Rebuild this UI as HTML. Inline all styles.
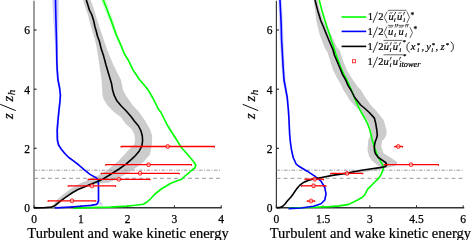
<!DOCTYPE html>
<html><head><meta charset="utf-8"><style>
html,body{margin:0;padding:0;background:#fff;}
svg{display:block;}
.tk{font-family:"Liberation Serif",serif;font-size:11.5px;fill:#000;stroke:#000;stroke-width:0.25px;}
.xl{font-family:"Liberation Serif",serif;font-size:14.5px;fill:#000;stroke:#000;stroke-width:0.2px;}
.yl{font-family:"Liberation Serif",serif;font-size:14.6px;fill:#000;stroke:#000;stroke-width:0.2px;}
.lg{font-family:"Liberation Serif",serif;font-size:10.8px;fill:#000;stroke:#000;stroke-width:0.2px;}
</style></head><body>
<svg width="473" height="240" viewBox="0 0 473 240" style="will-change:transform">
<rect width="473" height="240" fill="#fff"/>
<line x1="34" y1="0.8" x2="34" y2="208.1" stroke="#9e9e9e" stroke-width="2"/><line x1="33.4" y1="207.8" x2="221.79999999999998" y2="207.8" stroke="#333" stroke-width="1.5"/><line x1="34" y1="30" x2="36.6" y2="30" stroke="#222" stroke-width="1.1"/><text x="30.1" y="34.3" text-anchor="end" class="tk">6</text><line x1="34" y1="89.2" x2="36.6" y2="89.2" stroke="#222" stroke-width="1.1"/><text x="30.1" y="93.5" text-anchor="end" class="tk">4</text><line x1="34" y1="148.3" x2="36.6" y2="148.3" stroke="#222" stroke-width="1.1"/><text x="30.1" y="152.60000000000002" text-anchor="end" class="tk">2</text><line x1="34" y1="207.4" x2="36.6" y2="207.4" stroke="#222" stroke-width="1.1"/><text x="30.1" y="211.70000000000002" text-anchor="end" class="tk">0</text><line x1="34" y1="207.5" x2="34" y2="205.3" stroke="#262626" stroke-width="1"/><text x="34" y="222.6" text-anchor="middle" class="tk">0</text><line x1="80.8" y1="207.5" x2="80.8" y2="205.3" stroke="#262626" stroke-width="1"/><text x="80.8" y="222.6" text-anchor="middle" class="tk">1</text><line x1="127.6" y1="207.5" x2="127.6" y2="205.3" stroke="#262626" stroke-width="1"/><text x="127.6" y="222.6" text-anchor="middle" class="tk">2</text><line x1="174.4" y1="207.5" x2="174.4" y2="205.3" stroke="#262626" stroke-width="1"/><text x="174.4" y="222.6" text-anchor="middle" class="tk">3</text><line x1="221.2" y1="207.5" x2="221.2" y2="205.3" stroke="#262626" stroke-width="1"/><text x="221.2" y="222.6" text-anchor="middle" class="tk">4</text><text x="128" y="237.6" text-anchor="middle" class="xl">Turbulent and wake kinetic energy</text>
<line x1="276.4" y1="0.8" x2="276.4" y2="208.1" stroke="#3a3a3a" stroke-width="1.2"/><line x1="275.79999999999995" y1="207.8" x2="464.2" y2="207.8" stroke="#333" stroke-width="1.5"/><line x1="276.4" y1="30" x2="279.0" y2="30" stroke="#222" stroke-width="1.1"/><text x="272.5" y="34.3" text-anchor="end" class="tk">6</text><line x1="276.4" y1="89.2" x2="279.0" y2="89.2" stroke="#222" stroke-width="1.1"/><text x="272.5" y="93.5" text-anchor="end" class="tk">4</text><line x1="276.4" y1="148.3" x2="279.0" y2="148.3" stroke="#222" stroke-width="1.1"/><text x="272.5" y="152.60000000000002" text-anchor="end" class="tk">2</text><line x1="276.4" y1="207.4" x2="279.0" y2="207.4" stroke="#222" stroke-width="1.1"/><text x="272.5" y="211.70000000000002" text-anchor="end" class="tk">0</text><line x1="276.4" y1="207.5" x2="276.4" y2="205.3" stroke="#262626" stroke-width="1"/><text x="276.4" y="222.6" text-anchor="middle" class="tk">0</text><line x1="323.1" y1="207.5" x2="323.1" y2="205.3" stroke="#262626" stroke-width="1"/><text x="323.1" y="222.6" text-anchor="middle" class="tk">1.5</text><line x1="369.8" y1="207.5" x2="369.8" y2="205.3" stroke="#262626" stroke-width="1"/><text x="369.8" y="222.6" text-anchor="middle" class="tk">3</text><line x1="416.5" y1="207.5" x2="416.5" y2="205.3" stroke="#262626" stroke-width="1"/><text x="416.5" y="222.6" text-anchor="middle" class="tk">4.5</text><line x1="463.2" y1="207.5" x2="463.2" y2="205.3" stroke="#262626" stroke-width="1"/><text x="463.2" y="222.6" text-anchor="middle" class="tk">6</text><text x="370.4" y="237.6" text-anchor="middle" class="xl">Turbulent and wake kinetic energy</text>
<polygon points="83.10,0.00 85.50,8.00 88.00,15.00 90.50,25.00 93.50,35.00 95.50,42.00 97.10,50.00 99.40,65.00 101.60,80.00 102.20,90.00 102.30,94.00 103.50,99.00 107.70,105.70 114.30,112.30 121.00,117.30 126.00,124.30 131.80,129.30 134.30,134.30 135.20,139.30 134.30,144.30 129.30,149.30 123.30,155.80 117.50,161.70 108.80,169.00 101.50,174.00 97.90,175.60 89.00,179.50 81.30,182.90 74.00,186.50 68.80,190.20 63.00,194.50 58.30,198.50 54.50,203.00 52.00,206.90 50.00,207.60 54.00,207.60 56.30,206.90 58.50,204.00 62.50,200.60 68.00,196.00 75.00,191.30 83.00,188.00 91.70,185.00 100.00,183.60 108.80,182.80 117.50,178.40 129.00,172.60 136.40,167.50 143.70,161.70 150.00,154.40 151.80,145.00 152.20,136.00 150.30,130.00 144.70,120.00 139.00,112.00 132.50,105.00 125.60,95.00 123.10,90.00 121.00,80.00 113.40,65.00 107.30,50.00 103.80,40.00 101.50,33.00 98.80,25.00 95.60,15.00 93.50,8.00 90.60,0.00" fill="#cccccc" stroke="none"/><polygon points="52.30,0.00 53.05,15.00 54.10,30.00 55.10,45.00 55.60,60.00 56.05,70.00 56.90,80.00 58.54,88.00 59.38,95.00 58.99,101.00 57.95,110.00 56.90,120.00 56.05,130.00 56.20,140.00 57.47,145.00 59.92,148.70 63.98,153.70 67.83,157.50 72.88,161.20 77.93,165.00 82.99,169.40 89.22,174.40 95.24,177.70 97.45,180.00 97.78,186.00 97.86,200.60 97.17,202.80 95.88,204.40 90.39,205.40 79.39,206.20 69.39,207.00 59.40,207.60 54.40,208.00 55.60,208.00 60.60,207.60 70.61,207.00 80.61,206.20 91.61,205.40 97.12,204.40 98.43,202.80 99.14,200.60 99.22,186.00 98.95,180.00 96.76,177.70 90.78,174.40 84.61,169.40 79.67,165.00 74.72,161.20 69.77,157.50 66.02,153.70 62.08,148.70 59.73,145.00 58.60,140.00 58.35,130.00 59.10,120.00 60.05,110.00 61.01,101.00 61.42,95.00 60.66,88.00 59.10,80.00 58.35,70.00 58.00,60.00 58.10,45.00 58.30,30.00 58.55,15.00 58.70,0.00" fill="#ccccff" stroke="none"/><polygon points="100.70,0.00 103.28,6.00 105.88,12.50 109.00,20.00 112.04,28.00 114.75,35.00 117.62,41.00 120.03,46.30 123.28,53.80 127.20,60.00 132.33,70.40 138.65,79.80 144.87,87.10 148.08,91.30 152.20,98.50 157.43,109.00 160.14,112.50 163.16,118.50 166.38,125.00 170.19,131.00 175.92,140.00 180.03,146.70 185.05,152.50 190.07,158.30 193.48,162.50 195.08,165.00 194.09,168.00 190.80,170.50 187.61,173.30 184.31,176.00 181.02,179.20 175.33,181.20 170.13,183.30 160.65,189.00 154.36,194.00 150.27,198.50 146.38,202.00 142.69,204.20 134.39,205.30 126.49,206.10 109.40,207.10 89.40,207.60 72.80,208.20 74.00,208.20 90.60,207.60 110.60,207.10 127.71,206.10 135.61,205.30 143.91,204.20 147.62,202.00 151.53,198.50 155.64,194.00 161.95,189.00 171.47,183.30 176.67,181.20 182.38,179.20 185.69,176.00 188.99,173.30 192.20,170.50 195.51,168.00 196.52,165.00 194.92,162.50 191.53,158.30 186.55,152.50 181.57,146.70 177.48,140.00 171.81,131.00 168.02,125.00 164.84,118.50 161.86,112.50 159.17,109.00 154.00,98.50 149.92,91.30 146.73,87.10 140.55,79.80 134.27,70.40 129.20,60.00 125.52,53.80 122.57,46.30 120.38,41.00 117.85,35.00 115.56,28.00 113.00,20.00 110.32,12.50 108.12,6.00 105.90,0.00" fill="#ccffcc" stroke="none"/><polygon points="98.6,198.5 103.2,205.3 96.5,205.3" fill="#d4d4ff" stroke="none"/><line x1="34" y1="170.2" x2="221.2" y2="170.2" stroke="#999" stroke-width="1" stroke-dasharray="3.5,1.5,1,1.5"/><line x1="34" y1="178.3" x2="221.2" y2="178.3" stroke="#999" stroke-width="1" stroke-dasharray="4,3"/><polyline points="103.30,0.00 105.70,6.00 108.10,12.50 111.00,20.00 113.80,28.00 116.30,35.00 119.00,41.00 121.30,46.30 124.40,53.80 128.20,60.00 133.30,70.40 139.60,79.80 145.80,87.10 149.00,91.30 153.10,98.50 158.30,109.00 161.00,112.50 164.00,118.50 167.20,125.00 171.00,131.00 176.70,140.00 180.80,146.70 185.80,152.50 190.80,158.30 194.20,162.50 195.80,165.00 194.80,168.00 191.50,170.50 188.30,173.30 185.00,176.00 181.70,179.20 176.00,181.20 170.80,183.30 161.30,189.00 155.00,194.00 150.90,198.50 147.00,202.00 143.30,204.20 135.00,205.30 127.10,206.10 110.00,207.10 90.00,207.60 73.40,208.20" fill="none" stroke="#00ff00" stroke-width="1.6" stroke-linejoin="round"/><polyline points="55.50,0.00 55.80,15.00 56.20,30.00 56.60,45.00 56.80,60.00 57.20,70.00 58.00,80.00 59.60,88.00 60.40,95.00 60.00,101.00 59.00,110.00 58.00,120.00 57.20,130.00 57.40,140.00 58.60,145.00 61.00,148.70 65.00,153.70 68.80,157.50 73.80,161.20 78.80,165.00 83.80,169.40 90.00,174.40 96.00,177.70 98.20,180.00 98.50,186.00 98.50,200.60 97.80,202.80 96.50,204.40 91.00,205.40 80.00,206.20 70.00,207.00 60.00,207.60 55.00,208.00" fill="none" stroke="#0000ff" stroke-width="1.6" stroke-linejoin="round"/><polyline points="86.30,0.00 87.50,3.80 89.40,10.00 91.90,15.00 93.80,21.30 95.00,27.00 96.30,31.30 97.50,36.30 99.40,41.30 100.60,46.30 101.60,50.00 103.50,55.60 106.00,65.00 108.80,74.40 111.60,83.80 112.60,90.00 114.30,95.70 116.80,100.70 119.00,103.30 121.00,105.70 126.00,110.70 131.00,116.50 134.30,121.00 138.50,126.00 141.00,131.00 142.30,136.00 142.60,141.00 141.80,146.00 139.30,151.00 135.50,155.50 132.00,158.80 126.30,163.80 119.00,169.00 108.80,175.50 100.00,180.60 91.30,184.00 85.40,186.50 78.00,189.50 72.70,192.50 66.20,196.80 59.40,201.90 54.30,206.10 51.00,207.10 43.30,207.80 34.00,207.90" fill="none" stroke="#000" stroke-width="1.6" stroke-linejoin="round"/><line x1="121" y1="146.5" x2="214.5" y2="146.5" stroke="#ff0000" stroke-width="1.3"/><line x1="121" y1="146.1" x2="121" y2="147.6" stroke="#ff0000" stroke-width="1"/><line x1="214.5" y1="146.1" x2="214.5" y2="147.6" stroke="#ff0000" stroke-width="1"/><rect x="166.0" y="144.7" width="3.4" height="3.6" rx="1.3" fill="#ffd0d0" fill-opacity="0.6" stroke="#ff0000" stroke-width="0.9"/><line x1="105.7" y1="164.7" x2="191.5" y2="164.7" stroke="#ff0000" stroke-width="1.3"/><line x1="105.7" y1="164.29999999999998" x2="105.7" y2="165.79999999999998" stroke="#ff0000" stroke-width="1"/><line x1="191.5" y1="164.29999999999998" x2="191.5" y2="165.79999999999998" stroke="#ff0000" stroke-width="1"/><rect x="146.9" y="162.89999999999998" width="3.4" height="3.6" rx="1.3" fill="#ffd0d0" fill-opacity="0.6" stroke="#ff0000" stroke-width="0.9"/><line x1="101.1" y1="173.3" x2="179.2" y2="173.3" stroke="#ff0000" stroke-width="1.3"/><line x1="101.1" y1="172.9" x2="101.1" y2="174.4" stroke="#ff0000" stroke-width="1"/><line x1="179.2" y1="172.9" x2="179.2" y2="174.4" stroke="#ff0000" stroke-width="1"/><rect x="138.4" y="171.5" width="3.4" height="3.6" rx="1.3" fill="#ffd0d0" fill-opacity="0.6" stroke="#ff0000" stroke-width="0.9"/><line x1="88.1" y1="179.3" x2="150" y2="179.3" stroke="#ff0000" stroke-width="1.3"/><line x1="88.1" y1="178.9" x2="88.1" y2="180.4" stroke="#ff0000" stroke-width="1"/><line x1="150" y1="178.9" x2="150" y2="180.4" stroke="#ff0000" stroke-width="1"/><rect x="117.1" y="177.5" width="3.4" height="3.6" rx="1.3" fill="#ffd0d0" fill-opacity="0.6" stroke="#ff0000" stroke-width="0.9"/><line x1="68.2" y1="185.9" x2="115.6" y2="185.9" stroke="#ff0000" stroke-width="1.3"/><line x1="68.2" y1="185.5" x2="68.2" y2="187.0" stroke="#ff0000" stroke-width="1"/><line x1="115.6" y1="185.5" x2="115.6" y2="187.0" stroke="#ff0000" stroke-width="1"/><rect x="90.3" y="184.1" width="3.4" height="3.6" rx="1.3" fill="#ffd0d0" fill-opacity="0.6" stroke="#ff0000" stroke-width="0.9"/><line x1="48" y1="200.8" x2="95.8" y2="200.8" stroke="#ff0000" stroke-width="1.3"/><line x1="48" y1="200.4" x2="48" y2="201.9" stroke="#ff0000" stroke-width="1"/><line x1="95.8" y1="200.4" x2="95.8" y2="201.9" stroke="#ff0000" stroke-width="1"/><rect x="70.3" y="199.0" width="3.4" height="3.6" rx="1.3" fill="#ffd0d0" fill-opacity="0.6" stroke="#ff0000" stroke-width="0.9"/>
<polygon points="313.60,0.00 315.00,10.00 316.20,20.00 318.00,28.00 319.80,35.00 322.50,42.00 324.79,48.00 327.31,52.00 329.95,60.00 333.00,70.00 337.10,78.00 340.60,84.00 343.30,90.00 346.60,95.00 349.60,100.00 353.99,105.00 360.53,112.00 367.20,120.00 369.50,125.00 371.00,130.00 370.50,135.00 368.30,140.00 367.50,150.00 369.20,156.70 372.00,160.50 375.00,163.30 379.00,166.60 374.00,168.60 362.00,170.40 350.00,172.60 344.00,173.80 345.00,175.00 355.00,173.60 368.00,171.40 381.00,169.20 388.30,167.50 395.80,165.80 397.50,162.50 391.70,158.30 383.56,153.30 381.25,146.70 382.30,140.00 383.50,140.00 386.50,135.00 386.50,130.00 383.68,120.00 376.38,111.00 370.74,105.00 364.40,96.00 360.90,90.00 357.90,87.00 354.40,82.00 350.40,76.00 346.80,70.00 342.80,60.00 339.60,50.00 337.26,48.00 334.50,42.00 331.30,35.00 327.00,28.00 323.00,20.00 319.80,10.00 317.50,0.00" fill="#cccccc" stroke="none"/><polygon points="278.40,0.00 278.94,12.00 279.47,25.00 279.80,40.00 280.50,50.00 281.45,65.00 282.60,80.00 284.11,87.50 286.06,97.50 287.45,110.00 288.20,120.00 288.93,135.00 289.75,143.00 290.77,150.00 292.49,157.50 295.30,163.80 297.80,166.00 300.31,167.50 306.52,171.20 314.13,176.20 320.34,181.20 324.15,187.50 325.37,193.80 324.18,200.00 320.39,203.80 312.90,206.20 300.40,208.00 287.90,208.60 289.10,208.60 301.60,208.00 314.10,206.20 321.61,203.80 325.42,200.00 326.63,193.80 325.45,187.50 321.66,181.20 315.47,176.20 307.88,171.20 301.69,167.50 299.20,166.00 296.70,163.80 293.91,157.50 292.23,150.00 291.25,143.00 290.47,135.00 289.80,120.00 289.35,110.00 288.34,97.50 286.69,87.50 285.40,80.00 284.55,65.00 283.90,50.00 283.40,40.00 282.93,25.00 282.26,12.00 281.60,0.00" fill="#ccccff" stroke="none"/><polygon points="318.40,0.00 321.11,10.40 324.22,20.80 326.23,27.00 328.43,33.30 330.44,40.00 332.50,45.80 334.48,52.50 337.31,60.00 340.06,67.50 343.07,74.40 346.08,80.00 348.68,85.60 350.79,90.00 353.09,96.00 355.27,101.30 357.89,107.00 360.66,112.50 364.03,118.20 366.98,123.80 369.22,130.00 371.63,140.00 374.14,148.30 377.35,156.70 381.06,163.30 382.86,166.70 382.36,170.00 381.07,173.30 378.17,178.10 372.48,183.80 366.88,189.40 364.09,195.00 361.39,197.50 357.49,199.70 348.20,204.40 338.80,205.90 329.40,206.60 314.40,207.20 299.40,207.70 287.90,208.30 289.10,208.30 300.60,207.70 315.60,207.20 330.60,206.60 340.00,205.90 349.40,204.40 358.71,199.70 362.61,197.50 365.31,195.00 368.12,189.40 373.72,183.80 379.43,178.10 382.33,173.30 383.64,170.00 384.14,166.70 382.34,163.30 378.64,156.70 375.46,148.30 372.97,140.00 370.57,130.00 368.34,123.80 365.40,118.20 362.04,112.50 359.29,107.00 356.67,101.30 354.51,96.00 352.21,90.00 350.12,85.60 347.52,80.00 344.53,74.40 341.54,67.50 338.79,60.00 335.97,52.50 334.02,45.80 331.96,40.00 329.97,33.30 327.77,27.00 325.78,20.80 322.69,10.40 320.00,0.00" fill="#ccffcc" stroke="none"/><line x1="276.5" y1="170.2" x2="463.7" y2="170.2" stroke="#999" stroke-width="1" stroke-dasharray="3.5,1.5,1,1.5"/><line x1="276.5" y1="178.3" x2="463.7" y2="178.3" stroke="#999" stroke-width="1" stroke-dasharray="4,3"/><polyline points="319.20,0.00 321.90,10.40 325.00,20.80 327.00,27.00 329.20,33.30 331.20,40.00 333.26,45.80 335.23,52.50 338.05,60.00 340.80,67.50 343.80,74.40 346.80,80.00 349.40,85.60 351.50,90.00 353.80,96.00 355.97,101.30 358.59,107.00 361.35,112.50 364.72,118.20 367.66,123.80 369.90,130.00 372.30,140.00 374.80,148.30 378.00,156.70 381.70,163.30 383.50,166.70 383.00,170.00 381.70,173.30 378.80,178.10 373.10,183.80 367.50,189.40 364.70,195.00 362.00,197.50 358.10,199.70 348.80,204.40 339.40,205.90 330.00,206.60 315.00,207.20 300.00,207.70 288.50,208.30" fill="none" stroke="#00ff00" stroke-width="1.6" stroke-linejoin="round"/><polyline points="280.00,0.00 280.60,12.00 281.20,25.00 281.60,40.00 282.20,50.00 283.00,65.00 284.00,80.00 285.40,87.50 287.20,97.50 288.40,110.00 289.00,120.00 289.70,135.00 290.50,143.00 291.50,150.00 293.20,157.50 296.00,163.80 298.50,166.00 301.00,167.50 307.20,171.20 314.80,176.20 321.00,181.20 324.80,187.50 326.00,193.80 324.80,200.00 321.00,203.80 313.50,206.20 301.00,208.00 288.50,208.60" fill="none" stroke="#0000ff" stroke-width="1.6" stroke-linejoin="round"/><polyline points="315.00,0.00 317.70,10.40 320.80,20.80 323.50,27.00 326.00,33.30 328.80,40.00 331.25,45.80 333.07,50.00 334.35,55.00 337.04,61.30 339.70,67.50 342.50,74.40 345.70,80.00 348.10,85.60 350.90,90.00 354.70,97.50 360.66,105.00 365.45,109.00 369.30,112.50 374.40,118.10 375.80,123.80 376.80,130.00 377.30,135.40 376.50,138.50 375.20,141.70 374.30,146.70 374.60,151.00 375.50,153.80 378.30,157.50 383.30,160.80 385.60,162.50 386.60,164.20 386.40,165.60 385.00,166.70 380.00,167.60 371.70,168.70 363.30,170.00 355.00,171.50 346.00,173.40 339.00,174.40 332.30,175.40 322.90,177.20 313.50,179.00 308.00,180.40 304.00,182.20 300.50,184.60 298.00,187.20 295.50,190.50 293.00,194.20 291.00,197.00 287.50,200.80 285.00,204.00 283.00,206.00 280.50,207.40 277.00,208.00" fill="none" stroke="#000" stroke-width="1.6" stroke-linejoin="round"/><line x1="394.8" y1="146.5" x2="402.7" y2="146.5" stroke="#ff0000" stroke-width="1.3"/><line x1="394.8" y1="146.1" x2="394.8" y2="147.6" stroke="#ff0000" stroke-width="1"/><line x1="402.7" y1="146.1" x2="402.7" y2="147.6" stroke="#ff0000" stroke-width="1"/><rect x="396.6" y="144.7" width="3.4" height="3.6" rx="1.3" fill="#ffd0d0" fill-opacity="0.6" stroke="#ff0000" stroke-width="0.9"/><line x1="384.2" y1="164.7" x2="438.5" y2="164.7" stroke="#ff0000" stroke-width="1.3"/><line x1="384.2" y1="164.29999999999998" x2="384.2" y2="165.79999999999998" stroke="#ff0000" stroke-width="1"/><line x1="438.5" y1="164.29999999999998" x2="438.5" y2="165.79999999999998" stroke="#ff0000" stroke-width="1"/><rect x="409.3" y="162.89999999999998" width="3.4" height="3.6" rx="1.3" fill="#ffd0d0" fill-opacity="0.6" stroke="#ff0000" stroke-width="0.9"/><line x1="330.6" y1="173.4" x2="362.8" y2="173.4" stroke="#ff0000" stroke-width="1.3"/><line x1="330.6" y1="173.0" x2="330.6" y2="174.5" stroke="#ff0000" stroke-width="1"/><line x1="362.8" y1="173.0" x2="362.8" y2="174.5" stroke="#ff0000" stroke-width="1"/><rect x="345.3" y="171.6" width="3.4" height="3.6" rx="1.3" fill="#ffd0d0" fill-opacity="0.6" stroke="#ff0000" stroke-width="0.9"/><line x1="305" y1="179.2" x2="323.5" y2="179.2" stroke="#ff0000" stroke-width="1.3"/><line x1="305" y1="178.79999999999998" x2="305" y2="180.29999999999998" stroke="#ff0000" stroke-width="1"/><line x1="323.5" y1="178.79999999999998" x2="323.5" y2="180.29999999999998" stroke="#ff0000" stroke-width="1"/><rect x="313.0" y="177.39999999999998" width="3.4" height="3.6" rx="1.3" fill="#ffd0d0" fill-opacity="0.6" stroke="#ff0000" stroke-width="0.9"/><line x1="301.5" y1="185.8" x2="326" y2="185.8" stroke="#ff0000" stroke-width="1.3"/><line x1="301.5" y1="185.4" x2="301.5" y2="186.9" stroke="#ff0000" stroke-width="1"/><line x1="326" y1="185.4" x2="326" y2="186.9" stroke="#ff0000" stroke-width="1"/><rect x="311.8" y="184.0" width="3.4" height="3.6" rx="1.3" fill="#ffd0d0" fill-opacity="0.6" stroke="#ff0000" stroke-width="0.9"/><line x1="307.2" y1="201" x2="314.8" y2="201" stroke="#ff0000" stroke-width="1.3"/><line x1="307.2" y1="200.6" x2="307.2" y2="202.1" stroke="#ff0000" stroke-width="1"/><line x1="314.8" y1="200.6" x2="314.8" y2="202.1" stroke="#ff0000" stroke-width="1"/><rect x="309.3" y="199.2" width="3.4" height="3.6" rx="1.3" fill="#ffd0d0" fill-opacity="0.6" stroke="#ff0000" stroke-width="0.9"/>
<g transform="translate(12.5,119.2) rotate(-90)"><text x="0.10" y="0" class="yl" font-style="italic">z</text><line x1="8.6" y1="3.2" x2="14.9" y2="-12.3" stroke="#000" stroke-width="0.95"/><text x="17.70" y="0" class="yl" font-style="italic">z</text><text x="24.02" y="2.6" class="yl" style="font-size:11px" font-style="italic">h</text></g>
<g transform="translate(255.0,119.2) rotate(-90)"><text x="0.10" y="0" class="yl" font-style="italic">z</text><line x1="8.6" y1="3.2" x2="14.9" y2="-12.3" stroke="#000" stroke-width="0.95"/><text x="17.70" y="0" class="yl" font-style="italic">z</text><text x="24.02" y="2.6" class="yl" style="font-size:11px" font-style="italic">h</text></g>
<line x1="341.6" y1="17" x2="366.2" y2="17" stroke="#00ff00" stroke-width="1.6"/><line x1="341.6" y1="31.4" x2="366.2" y2="31.4" stroke="#0000ff" stroke-width="1.6"/><line x1="341.6" y1="46.4" x2="366.2" y2="46.4" stroke="#000" stroke-width="1.6"/><rect x="352.5" y="59.7" width="3.1" height="3.1" fill="#fff" stroke="#ff2020" stroke-width="0.85"/>
<text x="367.70" y="19.90" class="lg" style="font-size:10.6px">1</text><line x1="373.0" y1="22.7" x2="377.6" y2="11.7" stroke="#000" stroke-width="0.75"/><text x="378.18" y="19.90" class="lg" style="font-size:10.6px">2</text><polyline points="387.2,11.6 384.2,17.35 387.2,23.1" fill="none" stroke="#000" stroke-width="0.6" stroke-linejoin="miter"/><line x1="387.9" y1="10.3" x2="406.4" y2="10.3" stroke="#000" stroke-width="0.6"/><text x="388.48" y="19.90" class="lg" style="font-size:10.6px" font-style="italic">u</text><path d="M389.4,13.4 C390.36,12.0 391.16,13.8 392.6,12.4" fill="none" stroke="#000" stroke-width="0.65"/><path d="M395.20000000000005,12.1 L396.05,12.1 L394.3,15.4 L394.09999999999997,15.4 Z" fill="#000" stroke="#000" stroke-width="0.15"/><text x="393.82" y="22.30" class="lg" style="font-size:7.0px" font-style="italic">i</text><text x="397.08" y="19.90" class="lg" style="font-size:10.6px" font-style="italic">u</text><path d="M398.3,13.4 C399.26,12.0 400.06,13.8 401.5,12.4" fill="none" stroke="#000" stroke-width="0.65"/><path d="M404.1,12.1 L404.95,12.1 L403.20000000000005,15.4 L403.0,15.4 Z" fill="#000" stroke="#000" stroke-width="0.15"/><text x="403.23" y="22.30" class="lg" style="font-size:7.0px" font-style="italic">i</text><polyline points="406.9,11.6 409.5,17.35 406.9,23.1" fill="none" stroke="#000" stroke-width="0.6" stroke-linejoin="miter"/><text x="410.52" y="17.98" class="lg" style="font-size:7.5px">*</text><text x="367.50" y="34.90" class="lg" style="font-size:10.6px">1</text><line x1="373.0" y1="37.699999999999996" x2="377.6" y2="26.7" stroke="#000" stroke-width="0.75"/><text x="378.18" y="34.90" class="lg" style="font-size:10.6px">2</text><polyline points="387.0,26.6 384.2,32.5 387.0,38.4" fill="none" stroke="#000" stroke-width="0.6" stroke-linejoin="miter"/><line x1="388.0" y1="25.4" x2="393.4" y2="25.4" stroke="#000" stroke-width="0.6"/><path d="M388.6,27.5 C389.86,26.1 390.91,27.9 392.8,26.5" fill="none" stroke="#000" stroke-width="0.65"/><text x="387.98" y="34.90" class="lg" style="font-size:10.6px" font-style="italic">u</text><path d="M395.5,24.1 L396.34999999999997,24.1 L395.0,27.4 L394.79999999999995,27.4 Z" fill="#000" stroke="#000" stroke-width="0.15"/><path d="M397.3,24.1 L398.15,24.1 L396.8,27.4 L396.59999999999997,27.4 Z" fill="#000" stroke="#000" stroke-width="0.15"/><text x="393.93" y="37.30" class="lg" style="font-size:7.0px" font-style="italic">i</text><line x1="398.3" y1="25.4" x2="404.2" y2="25.4" stroke="#000" stroke-width="0.6"/><path d="M398.9,27.5 C400.21999999999997,26.1 401.32,27.9 403.3,26.5" fill="none" stroke="#000" stroke-width="0.65"/><text x="398.48" y="34.90" class="lg" style="font-size:10.6px" font-style="italic">u</text><path d="M405.90000000000003,24.1 L406.75,24.1 L405.40000000000003,27.4 L405.2,27.4 Z" fill="#000" stroke="#000" stroke-width="0.15"/><path d="M407.70000000000005,24.1 L408.55,24.1 L407.20000000000005,27.4 L407.0,27.4 Z" fill="#000" stroke="#000" stroke-width="0.15"/><text x="404.93" y="37.30" class="lg" style="font-size:7.0px" font-style="italic">i</text><polyline points="409.9,27.2 412.5,32.6 409.9,38.0" fill="none" stroke="#000" stroke-width="0.6" stroke-linejoin="miter"/><text x="413.52" y="32.27" class="lg" style="font-size:7.5px">*</text><text x="367.40" y="49.90" class="lg" style="font-size:10.6px">1</text><line x1="373.0" y1="52.699999999999996" x2="377.6" y2="41.7" stroke="#000" stroke-width="0.75"/><text x="378.28" y="49.90" class="lg" style="font-size:10.6px">2</text><line x1="383.5" y1="40.4" x2="402.2" y2="40.4" stroke="#000" stroke-width="0.6"/><text x="383.78" y="49.90" class="lg" style="font-size:10.6px" font-style="italic">u</text><path d="M384.6,43.6 C385.56,42.2 386.36,44.0 387.8,42.6" fill="none" stroke="#000" stroke-width="0.65"/><path d="M390.90000000000003,42.4 L391.75,42.4 L390.0,45.8 L389.79999999999995,45.8 Z" fill="#000" stroke="#000" stroke-width="0.15"/><text x="389.62" y="52.20" class="lg" style="font-size:7.0px" font-style="italic">i</text><text x="392.78" y="49.90" class="lg" style="font-size:10.6px" font-style="italic">u</text><path d="M393.8,43.6 C394.76,42.2 395.56,44.0 397.0,42.6" fill="none" stroke="#000" stroke-width="0.65"/><path d="M400.0,42.4 L400.84999999999997,42.4 L399.1,45.8 L398.9,45.8 Z" fill="#000" stroke="#000" stroke-width="0.15"/><text x="399.23" y="52.20" class="lg" style="font-size:7.0px" font-style="italic">i</text><text x="402.43" y="44.23" class="lg" style="font-size:7.0px">*</text><polyline points="409.6,41.9 407.3,44.5 406.9,47.2 407.3,49.9 409.6,52.5" fill="none" stroke="#000" stroke-width="0.8" stroke-linejoin="miter"/><text x="410.80" y="49.90" class="lg" style="font-size:10.6px" font-style="italic">x</text><text x="416.82" y="47.42" class="lg" style="font-size:7.0px">*</text><text x="417.23" y="52.20" class="lg" style="font-size:7.0px" font-style="italic">i</text><text x="421.40" y="49.90" class="lg" style="font-size:10.6px">,</text><text x="426.25" y="49.90" class="lg" style="font-size:10.6px" font-style="italic">y</text><text x="431.73" y="47.02" class="lg" style="font-size:7.0px">*</text><text x="431.32" y="52.20" class="lg" style="font-size:7.0px" font-style="italic">i</text><text x="435.60" y="49.90" class="lg" style="font-size:10.6px">,</text><text x="440.50" y="49.90" class="lg" style="font-size:10.6px" font-style="italic">z</text><text x="445.82" y="47.42" class="lg" style="font-size:7.0px">*</text><polyline points="450.8,41.6 453.0,44.3 453.4,46.9 453.0,49.4 450.8,52.0" fill="none" stroke="#000" stroke-width="0.8" stroke-linejoin="miter"/><text x="367.50" y="64.90" class="lg" style="font-size:10.6px">1</text><line x1="373.0" y1="67.7" x2="377.6" y2="56.7" stroke="#000" stroke-width="0.75"/><text x="378.28" y="64.90" class="lg" style="font-size:10.6px">2</text><line x1="383.5" y1="54.8" x2="403.0" y2="54.8" stroke="#000" stroke-width="0.6"/><text x="383.38" y="64.90" class="lg" style="font-size:10.6px" font-style="italic">u</text><path d="M390.8,57.0 L391.65,57.0 L389.90000000000003,60.4 L389.7,60.4 Z" fill="#000" stroke="#000" stroke-width="0.15"/><text x="389.52" y="66.90" class="lg" style="font-size:7.0px" font-style="italic">i</text><text x="392.68" y="64.90" class="lg" style="font-size:10.6px" font-style="italic">u</text><path d="M400.1,57.0 L400.95,57.0 L399.20000000000005,60.4 L399.0,60.4 Z" fill="#000" stroke="#000" stroke-width="0.15"/><text x="399.2" y="66.9" class="lg" style="font-size:7.6px" font-style="italic" textLength="21.2" lengthAdjust="spacingAndGlyphs">itower</text><text x="402.93" y="58.42" class="lg" style="font-size:7.0px">*</text>
</svg>
</body></html>
